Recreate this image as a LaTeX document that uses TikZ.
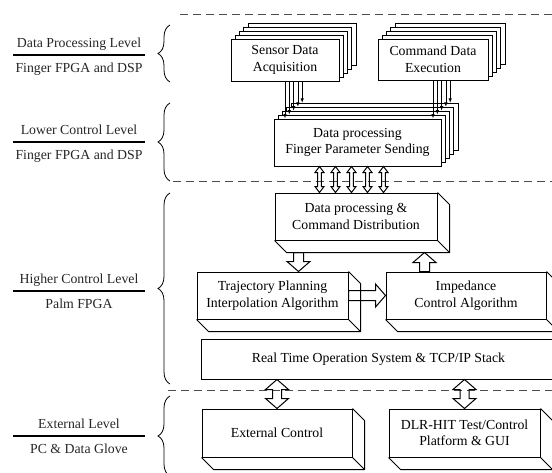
\documentclass[tikz,border=0pt]{standalone}
\usepackage{fontspec}
\setmainfont{Liberation Serif}
\usetikzlibrary{arrows.meta,calc,decorations.pathreplacing}

\tikzset{
  card/.style={draw, fill=white, line width=1pt, align=center, inner sep=0pt},
  sensbox/.style={minimum width=108pt, minimum height=42pt},
  cmdbox/.style={minimum width=110pt, minimum height=41pt},
  fingbox/.style={minimum width=167pt, minimum height=47pt},
  feed/.style={line width=0.8pt, -{Latex[length=4.5pt,width=3.5pt]}},
  slab/.style={draw, fill=white, line width=1pt, align=center, inner sep=0pt, minimum height=47pt},
  depth/.style={line width=1pt, line join=round},
  tier/.style={anchor=base, text=black!85},
  tierrule/.style={line width=1.2pt},
  layerline/.style={line width=1pt, black!70, dash pattern=on 8pt off 5pt},
  curly/.style={line width=0.8pt, decorate, decoration={brace, amplitude=12pt}},
  hollow/.style={line width=1pt, line join=miter},
  fatdown/.style={hollow, to path={let \p1=(\tikztostart), \p2=(\tikztotarget) in
    (\x1-5pt,\y1) -- (\x1-5pt,\y2+10pt) -- (\x1-11.5pt,\y2+10pt) -- (\x1,\y2)
    -- (\x1+11.5pt,\y2+10pt) -- (\x1+5pt,\y2+10pt) -- (\x1+5pt,\y1) -- cycle}},
  fatup/.style={hollow, to path={let \p1=(\tikztostart), \p2=(\tikztotarget) in
    (\x1-5pt,\y1) -- (\x1-5pt,\y2-10pt) -- (\x1-11.5pt,\y2-10pt) -- (\x1,\y2)
    -- (\x1+11.5pt,\y2-10pt) -- (\x1+5pt,\y2-10pt) -- (\x1+5pt,\y1) -- cycle}},
  fatright/.style={hollow, to path={let \p1=(\tikztostart), \p2=(\tikztotarget) in
    (\x1,\y1-5pt) -- (\x2-10pt,\y1-5pt) -- (\x2-10pt,\y1-11.5pt) -- (\x2,\y1)
    -- (\x2-10pt,\y1+11.5pt) -- (\x2-10pt,\y1+5pt) -- (\x1,\y1+5pt) -- cycle}},
  fatboth/.style n args={3}{hollow, to path={let \p1=(\tikztostart), \p2=(\tikztotarget) in
    (\x1,\y1) -- (\x1+#2,\y1-#3) -- (\x1+#1,\y1-#3) -- (\x1+#1,\y2+#3) -- (\x1+#2,\y2+#3)
    -- (\x1,\y2) -- (\x1-#2,\y2+#3) -- (\x1-#1,\y2+#3) -- (\x1-#1,\y1-#3) -- (\x1-#2,\y1-#3) -- cycle}},
}

\begin{document}
\begin{tikzpicture}[x=1pt, y=-1pt, font=\fontsize{13.8}{16.5}\selectfont]
    \useasboundingbox (0,0) rectangle (552,472);
    \clip (0,0) rectangle (552,472);

    % Separadores entre niveles
    \draw[layerline] (180,14) -- (552,14);
    \draw[layerline] (173,181) -- (552,181);
    \draw[layerline] (168,390) -- (552,390);

    % Niveles a la izquierda
    \node[tier] (dpl) at (79,47) {Data Processing Level};
    \node[tier] (dplhw) at (79,72) {Finger FPGA and DSP};
    \draw[tierrule] (13,55) -- (145,55);
    \node[tier] (lcl) at (79,134) {Lower Control Level};
    \node[tier] (lclhw) at (79,159) {Finger FPGA and DSP};
    \draw[tierrule] (13,142) -- (145,142);
    \node[tier] (hcl) at (79,283) {Higher Control Level};
    \node[tier] (hclhw) at (79,308) {Palm FPGA};
    \draw[tierrule] (13,291) -- (145,291);
    \node[tier] (exl) at (79,428) {External Level};
    \node[tier] (exlhw) at (79,453) {PC \& Data Glove};
    \draw[tierrule] (13,436) -- (145,436);

    % Llaves
    \draw[curly] (170,82) -- (170,25);
    \draw[curly] (170,181) -- (170,103);
    \draw[curly] (170,384) -- (170,193);
    \draw[curly] (170,476) -- (170,396);

    % Capas de los dedos, de atras hacia adelante
    \foreach \k in {4,3,2,1} {
        \node[card, sensbox] (sens\k) at ([shift={(4.3*\k,-3.9*\k)}]285,60) {};
        \node[card, cmdbox] (cmd\k) at ([shift={(4.3*\k,-3.9*\k)}]433,59.5) {};
        \node[card, fingbox] (fing\k) at ([shift={(4.3*\k,-3.9*\k)}]357.5,142.5) {};
        \draw[feed] (sens\k.south) -- (sens\k.south |- fing\k.north);
        \draw[feed] (cmd\k.south) -- (cmd\k.south |- fing\k.north);
    }
    \node[card, sensbox] (sens) at (285,60) {Sensor Data\\Acquisition};
    \node[card, cmdbox] (cmd) at (433,59.5) {Command Data\\Execution};
    \node[card, fingbox] (fing) at (357.5,142.5) {Data processing\\Finger Parameter Sending};
    \draw[feed] (sens.south) -- (sens.south |- fing.north);
    \draw[feed] (cmd.south) -- (cmd.south |- fing.north);

    % Palma
    \node[slab, minimum width=162pt] (dpcd) at (356,216.5) {Data processing \&\\Command Distribution};
    \node[slab, minimum width=151pt] (traj) at (272.5,295.5) {Trajectory Planning\\Interpolation Algorithm};
    \node[slab, minimum width=160pt] (imp) at (466,295.5) {Impedance\\Control Algorithm};
    \node[slab, minimum width=355pt, minimum height=40pt] (rtos) at (378.5,359) {Real Time Operation System \& TCP/IP Stack};

    % Nivel externo
    \node[slab, minimum width=150pt, minimum height=48pt] (ext) at (277,433) {External Control};
    \node[slab, minimum width=151pt, minimum height=48pt] (dlr) at (464.5,433) {DLR-HIT Test/Control\\Platform \& GUI};

    % Caras laterales
    \foreach \n in {dpcd,traj,imp,ext,dlr}
        \draw[depth] (\n.north east) -- ++(12,12) |- ([shift={(12,12)}]\n.south west) -- (\n.south west)
            (\n.south east) -- ++(12,12);

    % Flechas huecas
    \foreach \i in {0,...,4}
        \draw[fatboth={1.8pt}{4.5pt}{6pt}] ([xshift={(46+16*\i)*1pt}]fing.south west) to (dpcd.north);
    \draw[fatdown] ([shift={(24,12)}]dpcd.south west) to (traj.north);
    \draw[fatup] ([xshift=39pt]imp.north west) to ([yshift=-12pt]dpcd.south);
    \draw[fatright] (traj.east) to (imp.west);
    \draw[fatboth={4.5pt}{11.5pt}{10pt}] (ext.north |- rtos.south) to (ext.north);
    \draw[fatboth={4.5pt}{11.5pt}{10pt}] (dlr.north |- rtos.south) to (dlr.north);
\end{tikzpicture}
\end{document}
